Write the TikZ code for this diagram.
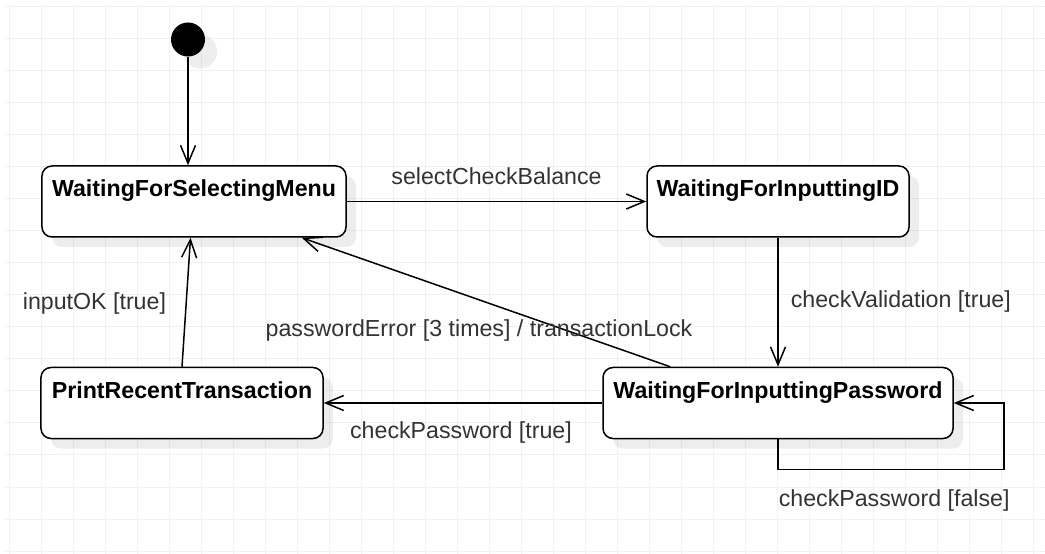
\documentclass[tikz,border=0pt]{standalone}
\usepackage{fontspec}
\setmainfont{Liberation Sans}
\usepackage{xcolor}
\usepackage{tikz}
\usetikzlibrary{calc}
\usetikzlibrary {arrows.meta}
\usetikzlibrary {shadows}
\definecolor{G0}{HTML}{F2F2F2}
\definecolor{T0}{HTML}{333333}

\begin{document}
\begin{tikzpicture}[x=0.2mm,y=-0.2mm]
\tikzstyle{sl}=[draw,shape=rectangle,rounded corners=2mm,line width=0.3mm,fill=white,inner sep=0pt,text height=6.14mm,text depth=8.06mm,font=\fontsize{13.2pt}{16pt}\selectfont\bfseries,drop shadow={shadow xshift=2mm,shadow yshift=-2mm,fill=black,opacity=0.07}]
\tikzstyle{ini}=[shape=circle,fill=black,minimum size=6.8mm,inner sep=0pt,drop shadow={shadow xshift=2.4mm,shadow yshift=-2.4mm,fill=black,opacity=0.07}]
\tikzstyle{tl}=[text=T0,inner sep=0pt,font=\fontsize{13.2pt}{16pt}\selectfont]
\tikzstyle{tr}=[-{Straight Barb[length=3.6mm,width=3mm]},line width=0.3mm]

\useasboundingbox (0,0) rectangle (1045,554);
\fill[white] (0,0) rectangle (1045,554);
\foreach \i in {0,...,32} \draw[G0,line width=0.2mm] ({9+32*\i},5) -- ({9+32*\i},554);
\foreach \j in {0,...,17} \draw[G0,line width=0.2mm] (5,{7+32*\j}) -- (1045,{7+32*\j});
%
\node[ini](init) at (188,39.5){};
\node[sl,minimum width=60.8mm](menu) at (194,201.5){WaitingForSelectingMenu};
\node[sl,minimum width=52.4mm](id) at (778,201.5){WaitingForInputtingID};
\node[sl,minimum width=70mm](pwd) at (778,403){WaitingForInputtingPassword};
\node[sl,minimum width=56.4mm](prt) at (182,403){PrintRecentTransaction};
%
\draw[tr] (init) -- (init |- menu.north);
\draw[tr] (menu) -- (id) node[tl,midway,anchor=base,yshift=3.3mm]{selectCheckBalance};
\draw[tr] (id) -- (pwd) node[tl,midway,anchor=base west,xshift=2.4mm,yshift=-1.1mm]{checkValidation [true]};
\draw[tr] (pwd) -- (prt) node[tl,midway,anchor=base,xshift=-0.4mm,yshift=-7.06mm]{checkPassword [true]};
\draw[tr] (prt.north) -- ([xshift=-0.7mm]menu.south) node[tl,midway,anchor=base east,xshift=-3.9mm,yshift=-1.36mm]{inputOK [true]};
\draw[tr] ([xshift=13.6mm]pwd.north west) -- ([xshift=-9mm]menu.south east) node[tl,midway,anchor=base,xshift=-1.4mm,yshift=-6.84mm]{passwordError [3 times] / transactionLock};
\draw[tr] (pwd.south) -- ++(0,30) -- ++(226,0) node[tl,pos=0,anchor=base west,yshift=-7.44mm]{checkPassword [false]} |- (pwd.east);
\end{tikzpicture}
\end{document}
